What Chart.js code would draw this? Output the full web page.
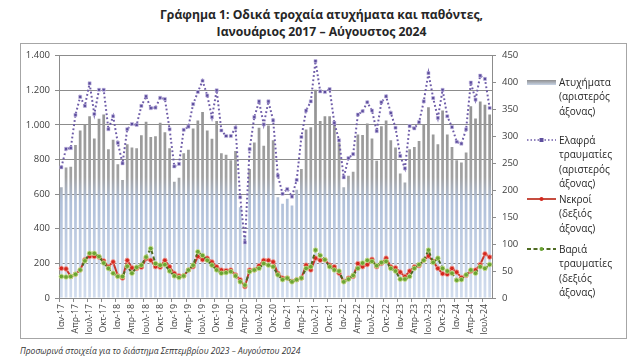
<!DOCTYPE html>
<html>
<head>
<meta charset="utf-8">
<script src="https://cdn.jsdelivr.net/npm/chart.js@4.4.1/dist/chart.umd.min.js"></script>
<style>
  body { margin: 0; width: 643px; height: 363px; background: #fff; position: relative; overflow: hidden;
         font-family: "Open Sans", "Noto Sans", sans-serif; color: #262626; }
  #title { position: absolute; left: 0; top: 6px; width: 643px; text-align: center; font-weight: bold;
           font-size: 12.2px; line-height: 17px; }
  #box { position: absolute; left: 20px; top: 43px; width: 607px; height: 296px; border: 1px solid #a6a6a6;
         box-sizing: border-box; }
  #wrap { position: absolute; left: 0; top: 0; width: 520px; height: 294px; }
  .leg { position: absolute; left: 559px; font-size: 10px; line-height: 14.3px; color: #262626; }
  .sw { position: absolute; left: 527px; }
  #note { position: absolute; left: 20px; top: 345px; font-style: italic; font-size: 8.5px; color: #333; }
</style>
</head>
<body>
<div id="title">Γράφημα 1: Οδικά τροχαία ατυχήματα και παθόντες,<br>Ιανουάριος 2017 – Αύγουστος 2024</div>
<div id="box"><div id="wrap"><canvas id="chart"></canvas></div></div>

<svg class="sw" style="top:80px" width="30" height="6"><defs><linearGradient id="bg1" x1="0" y1="0" x2="0" y2="1"><stop offset="0" stop-color="#8f8f8f"/><stop offset="1" stop-color="#c8d4e6"/></linearGradient></defs><rect x="0" y="0" width="29" height="5" fill="url(#bg1)"/></svg>
<div class="leg" style="top:75px">Ατυχήματα<br>(αριστερός<br>άξονας)</div>

<svg class="sw" style="top:137px" width="30" height="6"><line x1="0" y1="3" x2="29" y2="3" stroke="#6e5ca8" stroke-width="1.6" stroke-dasharray="1.5,2"/><rect x="12.5" y="1" width="4" height="4" fill="#5e4f9e"/></svg>
<div class="leg" style="top:133px">Ελαφρά<br>τραυματίες<br>(αριστερός<br>άξονας)</div>

<svg class="sw" style="top:196px" width="30" height="6"><line x1="0" y1="3" x2="29" y2="3" stroke="#c0392b" stroke-width="1.8"/><circle cx="14.5" cy="3" r="2" fill="#d3271d"/></svg>
<div class="leg" style="top:192px">Νεκροί<br>(δεξιός<br>άξονας)</div>

<svg class="sw" style="top:246px" width="30" height="6"><line x1="0" y1="3" x2="29" y2="3" stroke="#4f6b22" stroke-width="1.8" stroke-dasharray="4,2.5"/><circle cx="14.5" cy="3" r="2" fill="#6aa333"/></svg>
<div class="leg" style="top:242px">Βαριά<br>τραυματίες<br>(δεξιός<br>άξονας)</div>

<div id="note">Προσωρινά στοιχεία για το διάστημα Σεπτεμβρίου 2023 – Αυγούστου 2024</div>

<script>
const monthNames = ["Ιαν", "Φεβ", "Μαρ", "Απρ", "Μαϊ", "Ιουν", "Ιουλ", "Αυγ", "Σεπ", "Οκτ", "Νοε", "Δεκ"];
const years = ["17", "18", "19", "20", "21", "22", "23", "24"];
const lastMonth = 8; // Αύγουστος 2024

// Ατυχήματα (αριστερός άξονας)
const accidents = [
  640, 754, 758, 884, 968, 1003, 1050, 922, 1035, 1060, 859, 915,
  773, 682, 888, 869, 865, 940, 1018, 930, 934, 1012, 957, 865,
  672, 695, 837, 856, 980, 1026, 1075, 968, 920, 1022, 837, 827,
  796, 850, 525, 353, 745, 898, 984, 879, 997, 911, 582, 544,
  573, 535, 625, 745, 974, 987, 1203, 1022, 1050, 1050, 1022, 898,
  640, 707, 730, 945, 942, 1008, 922, 793, 993, 1026, 911, 869,
  720, 668, 859, 873, 907, 1003, 1102, 945, 888, 1083, 945, 873,
  796, 783, 840, 1108, 1037, 1136, 1117, 1060
];
// Ελαφρά τραυματίες (αριστερός άξονας)
const lightInjured = [
  755, 862, 866, 1058, 1162, 1110, 1240, 1063, 1203, 1203, 975, 1050,
  896, 778, 975, 1005, 1000, 1110, 1165, 1097, 1100, 1157, 1150, 975,
  760, 775, 972, 990, 1120, 1190, 1255, 1170, 1045, 1200, 968, 936,
  936, 984, 582, 321, 860, 1045, 1136, 1003, 1136, 1026, 707, 602,
  630, 586, 682, 930, 1083, 1136, 1369, 1194, 1190, 1207, 1012, 911,
  697, 808, 831, 1060, 1079, 1131, 1083, 964, 1131, 1165, 1069, 984,
  821, 749, 993, 980, 1016, 1136, 1299, 1155, 1041, 1203, 1050, 987,
  903, 892, 974, 1245, 1146, 1285, 1266, 1098
];
// Νεκροί (δεξιός άξονας)
const deaths = [
  55, 54, 40, 44, 52, 71, 77, 77, 76, 69, 58, 67,
  41, 37, 70, 56, 55, 57, 73, 70, 58, 57, 70, 58,
  46, 41, 41, 52, 58, 77, 71, 74, 67, 58, 52, 51,
  52, 43, 34, 21, 52, 52, 60, 70, 70, 67, 46, 37,
  37, 31, 34, 37, 61, 52, 74, 70, 71, 61, 58, 46,
  31, 37, 40, 64, 58, 62, 72, 58, 64, 74, 58, 56,
  48, 40, 50, 58, 60, 70, 78, 68, 55, 45, 44, 55,
  48, 38, 42, 50, 52, 62, 82, 76
];
// Βαριά τραυματίες (δεξιός άξονας)
const seriousInjured = [
  40, 39, 40, 44, 52, 69, 83, 83, 77, 65, 55, 46,
  40, 40, 59, 46, 57, 61, 76, 92, 64, 61, 62, 50,
  41, 38, 41, 52, 61, 86, 79, 70, 61, 52, 46, 47,
  49, 41, 30, 24, 49, 52, 55, 64, 61, 58, 43, 34,
  37, 30, 34, 37, 55, 58, 89, 79, 71, 58, 52, 50,
  30, 35, 42, 55, 65, 70, 68, 60, 66, 68, 55, 50,
  35, 35, 40, 55, 62, 70, 89, 66, 74, 55, 50, 46,
  33, 34, 43, 52, 46, 58, 55, 62
];

const labels = [];
years.forEach((y, yi) => {
  const n = yi === years.length - 1 ? lastMonth : 12;
  for (let m = 0; m < n; m++) labels.push(monthNames[m] + "-" + y);
});

const FONT = { family: "'Open Sans', 'Noto Sans', sans-serif", size: 9.5 };

let barGrad = null;
function barFill(ctx) {
  const chart = ctx.chart;
  const ys = chart.scales.y;
  if (!chart.chartArea || !ys) return "#a0a0a0";
  if (!barGrad) {
    const top = ys.getPixelForValue(1400), bot = ys.getPixelForValue(0);
    barGrad = chart.ctx.createLinearGradient(0, top, 0, bot);
    barGrad.addColorStop(0, "#8a8a8a");
    barGrad.addColorStop(0.5, "#a2a2a2");
    barGrad.addColorStop(0.6, "#b0c0d9");
    barGrad.addColorStop(1, "#d2ddee");
  }
  return barGrad;
}

function fmt(v) {
  if (v >= 1000) return Math.floor(v / 1000) + "." + String(v % 1000).padStart(3, "0");
  return String(v);
}

new Chart(document.getElementById("chart"), {
  data: {
    labels: labels,
    datasets: [
      {
        type: "bar", label: "Ατυχήματα", data: accidents, yAxisID: "y", order: 10,
        backgroundColor: barFill, barPercentage: 0.58, categoryPercentage: 1
      },
      {
        type: "line", label: "Ελαφρά τραυματίες", data: lightInjured, yAxisID: "y", order: 3,
        borderColor: "#6e5ca8", borderWidth: 2, borderDash: [1.8, 2.4], tension: 0,
        pointStyle: "rect", pointRadius: 2.2, pointBackgroundColor: "#5b4c9c",
        pointBorderColor: "#c9c0e6", pointBorderWidth: 0.6
      },
      {
        type: "line", label: "Νεκροί", data: deaths, yAxisID: "y2", order: 2,
        borderColor: "#c8372c", borderWidth: 2, tension: 0,
        pointRadius: 2.3, pointBackgroundColor: "#d3271d", pointBorderColor: "#f0a19a", pointBorderWidth: 0.8
      },
      {
        type: "line", label: "Βαριά τραυματίες", data: seriousInjured, yAxisID: "y2", order: 1,
        borderColor: "#4f6b22", borderWidth: 2, borderDash: [4, 2.5], tension: 0,
        pointRadius: 2.3, pointBackgroundColor: "#6aa333", pointBorderColor: "#c8e08a", pointBorderWidth: 0.8
      }
    ]
  },
  options: {
    responsive: true,
    maintainAspectRatio: false,
    animation: false,
    layout: { padding: { top: 10, left: 0, right: 0, bottom: 0 } },
    plugins: { legend: { display: false }, tooltip: { enabled: false } },
    scales: {
      x: {
        grid: {
          drawOnChartArea: false, tickLength: 4,
          color: (c) => (c.index % 3 === 0 ? "#8c8c8c" : "rgba(0,0,0,0)")
        },
        border: { color: "#8c8c8c" },
        ticks: {
          autoSkip: false, maxRotation: 90, minRotation: 90, padding: 2,
          font: { family: FONT.family, size: 8.8 }, color: "#404040",
          callback: function (v, i) { return i % 3 === 0 ? labels[i] : ""; }
        },
        afterFit: (s) => { s.height = 40; }
      },
      y: {
        position: "left", min: 0, max: 1400,
        ticks: { stepSize: 200, font: FONT, color: "#404040", padding: 5, callback: fmt },
        grid: { color: "#8c8c8c", tickLength: 4 },
        border: { color: "#8c8c8c" },
        afterFit: (s) => { s.width = 38; }
      },
      y2: {
        position: "right", min: 0, max: 450,
        ticks: { stepSize: 50, font: FONT, color: "#404040", padding: 6 },
        grid: { drawOnChartArea: false, color: "#8c8c8c", tickLength: 4 },
        border: { color: "#8c8c8c" },
        afterFit: (s) => { s.width = 49; }
      }
    }
  }
});
</script>
</body>
</html>
